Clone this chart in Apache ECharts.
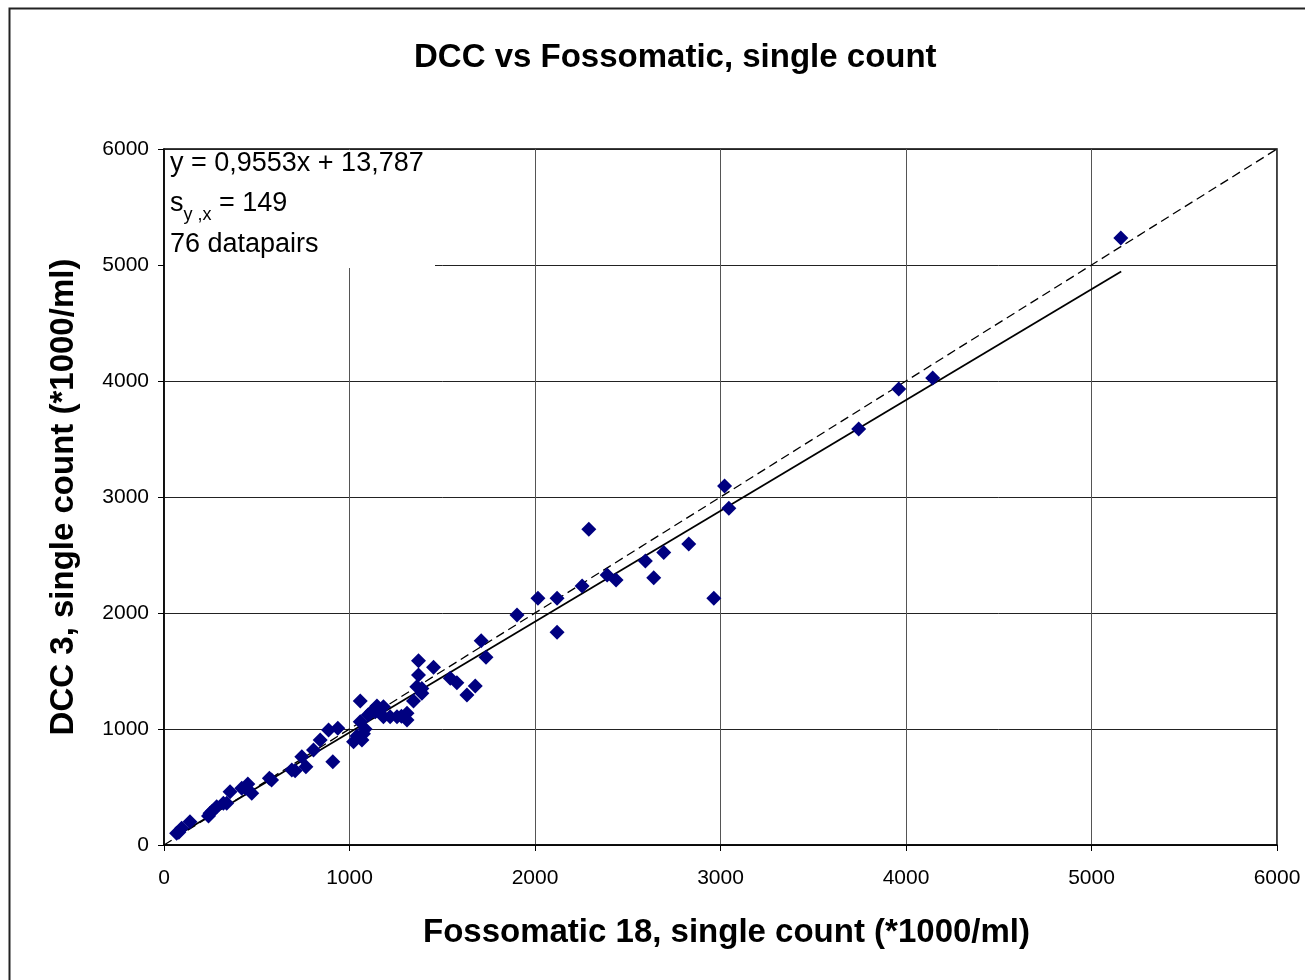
<!DOCTYPE html>
<html>
<head>
<meta charset="utf-8">
<script src="https://cdn.jsdelivr.net/npm/echarts@6/dist/echarts.min.js"></script>
<style>
  html, body { margin: 0; padding: 0; background: #fff; }
  #chart { width: 1305px; height: 980px; }
</style>
</head>
<body>
<div id="chart"></div>
<script>
// Fossomatic 18 (x) vs DCC 3 (y), *1000/ml
const fossomatic = [
  5158, 4144, 3961, 3745, 3022, 3045, 2964, 2829, 2694, 2640,
  2595, 2437, 2389, 2254, 2290, 2119, 2119, 2016, 1903, 1736,
  1710, 1678, 1633, 1579, 1543, 1453, 1372, 1372, 1363, 1390,
  1345, 1310, 1310, 1256, 1219, 1183, 1148, 1139, 1183, 1058,
  1058, 1084, 1075, 1022, 1067, 1040, 937, 887, 910, 842,
  806, 743, 765, 689, 707, 568, 452, 419, 473, 356,
  338, 320, 284, 248, 240, 140, 95, 68, 80, 1100,
  1120, 1280, 1390, 580, 440, 260
];
const dcc = [
  5233, 4026, 3931, 3586, 3095, 2902, 2127, 2595, 2522, 2303,
  2448, 2284, 2328, 2233, 2722, 2127, 1833, 2127, 1983, 1618,
  1761, 1371, 1293, 1399, 1437, 1532, 1589, 1466, 1365, 1308,
  1241, 1135, 1078, 1106, 1106, 1192, 1198, 1149, 1106, 1241,
  1063, 1000, 960, 890, 905, 940, 1006, 991, 718, 905,
  819, 761, 675, 647, 640, 575, 526, 489, 446, 460,
  359, 359, 330, 273, 250, 201, 144, 101, 110, 1120,
  1150, 1110, 1350, 560, 490, 290
];

// regression y = 0,9553x + 13,787 over the data range
const slope = 0.9553;
const intercept = 13.787;
const fitRange = [75, 5160];
const identityRange = [0, 6000];

const axisTicks = [0, 1000, 2000, 3000, 4000, 5000, 6000];

const font = '"Liberation Sans", Arial, sans-serif';

const chart = echarts.init(document.getElementById('chart'), null, { renderer: 'canvas' });

const points = fossomatic.map((x, i) => [x, dcc[i]]);
const fitLine = fitRange.map(x => [x, slope * x + intercept]);
const identityLine = identityRange.map(v => [v, v]);

const axisCommon = {
  type: 'value',
  min: axisTicks[0],
  max: axisTicks[axisTicks.length - 1],
  interval: 1000,
  nameLocation: 'middle',
  nameTextStyle: { color: '#000', fontFamily: font, fontWeight: 'bold', fontSize: 33 },
  axisLine: { show: true, lineStyle: { color: '#000', width: 1.5 } },
  axisTick: { show: true, inside: false, length: 6, lineStyle: { color: '#000' } },
  axisLabel: { color: '#000', fontFamily: font, fontSize: 21, formatter: v => String(v) },
  splitLine: { show: true, lineStyle: { color: '#222', width: 1 } }
};

chart.setOption({
  backgroundColor: '#fff',
  animation: false,
  title: {
    text: 'DCC vs Fossomatic, single count',
    left: 409,
    top: 36,
    textStyle: { color: '#000', fontFamily: font, fontWeight: 'bold', fontSize: 33 }
  },
  grid: { left: 164, top: 149, right: 28, bottom: 135, show: true, borderColor: '#000', borderWidth: 1.5 },
  xAxis: {
    ...axisCommon,
    name: 'Fossomatic 18, single count (*1000/ml)',
    nameGap: 71,
    nameTextStyle: { ...axisCommon.nameTextStyle, padding: [0, 0, 0, 12] },
    axisLabel: { ...axisCommon.axisLabel, margin: 23 },
    splitLine: { show: true, lineStyle: { color: '#555', width: 1 } }
  },
  yAxis: {
    ...axisCommon,
    name: 'DCC 3, single count (*1000/ml)',
    nameGap: 84,
    axisLabel: { ...axisCommon.axisLabel, margin: 15 }
  },
  series: [
    {
      type: 'line',
      data: identityLine,
      symbol: 'none',
      lineStyle: { color: '#000', width: 1.3, type: [9, 5] },
      z: 2
    },
    {
      type: 'line',
      data: fitLine,
      symbol: 'none',
      lineStyle: { color: '#000', width: 1.8 },
      z: 3
    },
    {
      type: 'scatter',
      data: points,
      symbol: 'diamond',
      symbolSize: 15,
      itemStyle: { color: '#000080', opacity: 1 },
      z: 4
    }
  ],
  graphic: [
    {
      type: 'rect',
      left: 7, top: 6,
      shape: { width: 1320, height: 1000 },
      style: { fill: 'none', stroke: '#222', lineWidth: 2 },
      silent: true,
      z: -1
    },
    {
      type: 'rect',
      left: 165, top: 150,
      shape: { width: 270, height: 118 },
      style: { fill: '#fff' },
      z: 10
    },
    {
      type: 'text',
      left: 170, top: 150,
      style: {
        text: 'y = 0,9553x + 13,787',
        fill: '#000', font: '27px ' + font
      },
      z: 11
    },
    {
      type: 'text',
      left: 170, top: 190,
      style: {
        text: '{a|s}{b|y ,x}{a| = 149}',
        rich: {
          a: { fill: '#000', fontFamily: font, fontSize: 27, lineHeight: 32, verticalAlign: 'bottom' },
          b: { fill: '#000', fontFamily: font, fontSize: 18, lineHeight: 24, verticalAlign: 'bottom', padding: [0, 0, -7, 0] }
        }
      },
      z: 11
    },
    {
      type: 'text',
      left: 170, top: 231,
      style: {
        text: '76 datapairs',
        fill: '#000', font: '27px ' + font
      },
      z: 11
    }
  ]
});
</script>
</body>
</html>
